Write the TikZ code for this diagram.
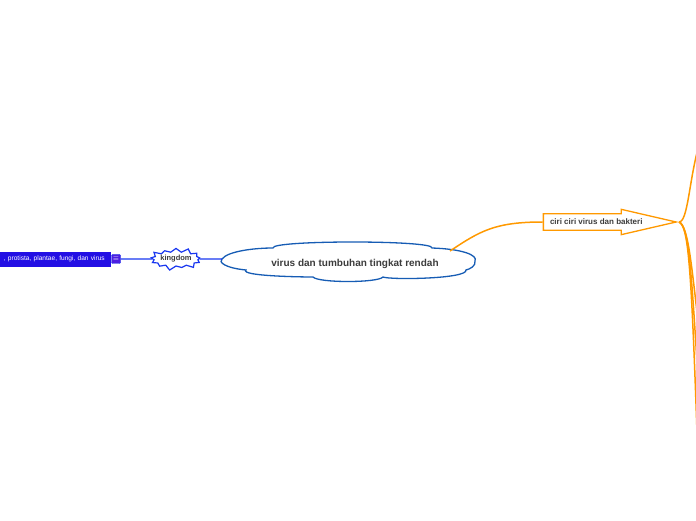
\documentclass[tikz,border=0pt]{standalone}
\usepackage{fontspec}
\setmainfont{Liberation Sans}
\usetikzlibrary{positioning,shapes.symbols,shapes.arrows,shapes.geometric,calc}
\definecolor{mapblue}{RGB}{22,92,180}
\definecolor{kingblue}{RGB}{25,55,240}
\definecolor{boxblue}{RGB}{35,15,228}
\definecolor{noteblue}{RGB}{75,30,225}
\definecolor{maporange}{RGB}{255,153,0}
\definecolor{textgray}{RGB}{60,60,60}

\begin{document}
\begin{tikzpicture}[x=1pt,y=1pt,
  topic/.style={ellipse,minimum width=253pt,minimum height=40pt,inner sep=0pt,font=\fontsize{10}{11}\selectfont\bfseries,text=textgray},
  puff/.style={draw=mapblue,line width=1.3pt,fill=white},
  burst/.style={starburst,starburst points=13,starburst point height=5pt,draw=kingblue,line width=1.2pt,fill=white,
    minimum width=48pt,minimum height=24pt,inner sep=0pt,font=\fontsize{7.5}{8}\selectfont\bfseries,text=textgray},
  leaf/.style={rectangle,fill=boxblue,draw=boxblue,text=white,font=\fontsize{6.6}{7}\selectfont,
    minimum height=14pt,text width=120pt,align=right,inner xsep=5pt,inner ysep=0pt},
  note/.style={rectangle,rounded corners=1pt,fill=noteblue,draw=kingblue,minimum size=9pt,inner sep=0pt,text=white,font=\fontsize{7}{7}\selectfont},
  arrowbox/.style={single arrow,single arrow head extend=4.5pt,single arrow tip angle=26,draw=maporange,line width=1.3pt,fill=white,
    inner ysep=4.6pt,inner xsep=6pt,font=\fontsize{8}{8}\selectfont\bfseries,text=textgray},
  blueedge/.style={kingblue,line width=1.2pt},
  orangeedge/.style={maporange,line width=1.5pt}]
\clip (0,0) rectangle (696,520);
\useasboundingbox (0,0) rectangle (696,520);
% central topic and the kingdom branch
\node[topic] (main) at (355,256) {};
\node[burst] (kingdom) at (176,261) {kingdom};
\node[note] (memo) at (116,261) {$\equiv$};
\node[leaf,anchor=east] (kinds) at (110,261) {, protista, plantae, fungi, dan virus};
\draw[blueedge] (memo) -- (kingdom);
% the cloud outline round the topic
\begin{scope}[shift={($(main.center)+(-6,3)$)}]
  \draw[puff] (-127,2) coordinate (cl)
    .. controls (-121,10) and (-94,13) .. (-76,13)
    .. controls (-79,21) and (86,21) .. (83,13)
    .. controls (113,12) and (129,6) .. (126,0)
    .. controls (127,-5) and (121,-8) .. (117,-9)
    .. controls (119,-18) and (41,-19) .. (34,-16)
    .. controls (29,-22) and (-31,-22) .. (-36,-16)
    .. controls (-49,-16) and (-109,-15) .. (-103,-9)
    .. controls (-124,-7) and (-131,-1) .. (-127,2) -- cycle;
  \coordinate (cr) at (101,10);
\end{scope}
\draw[blueedge] (kingdom) -- (cl);
\node[font=\fontsize{10}{11}\selectfont\bfseries,text=textgray] (title) at (main.center) {virus dan tumbuhan tingkat rendah};
% the orange branch
\node[arrowbox,anchor=tip] (ciri) at (679,298) {\makebox[84pt][l]{ciri ciri virus dan bakteri}};
\draw[orangeedge] (cr) .. controls (480,289) and (495,298) .. (ciri.tail);
\coordinate (up1) at (699,375);
\coordinate (dn1) at (699,190);
\coordinate (dn2) at (698,140);
\coordinate (dn3) at (697,88);
\draw[orangeedge] (ciri.tip) .. controls (688,298) and (689,340) .. (up1);
\foreach \e in {dn1,dn2,dn3} \draw[orangeedge] (ciri.tip) .. controls (688,294) and (691,260) .. (\e);
\end{tikzpicture}
\end{document}
